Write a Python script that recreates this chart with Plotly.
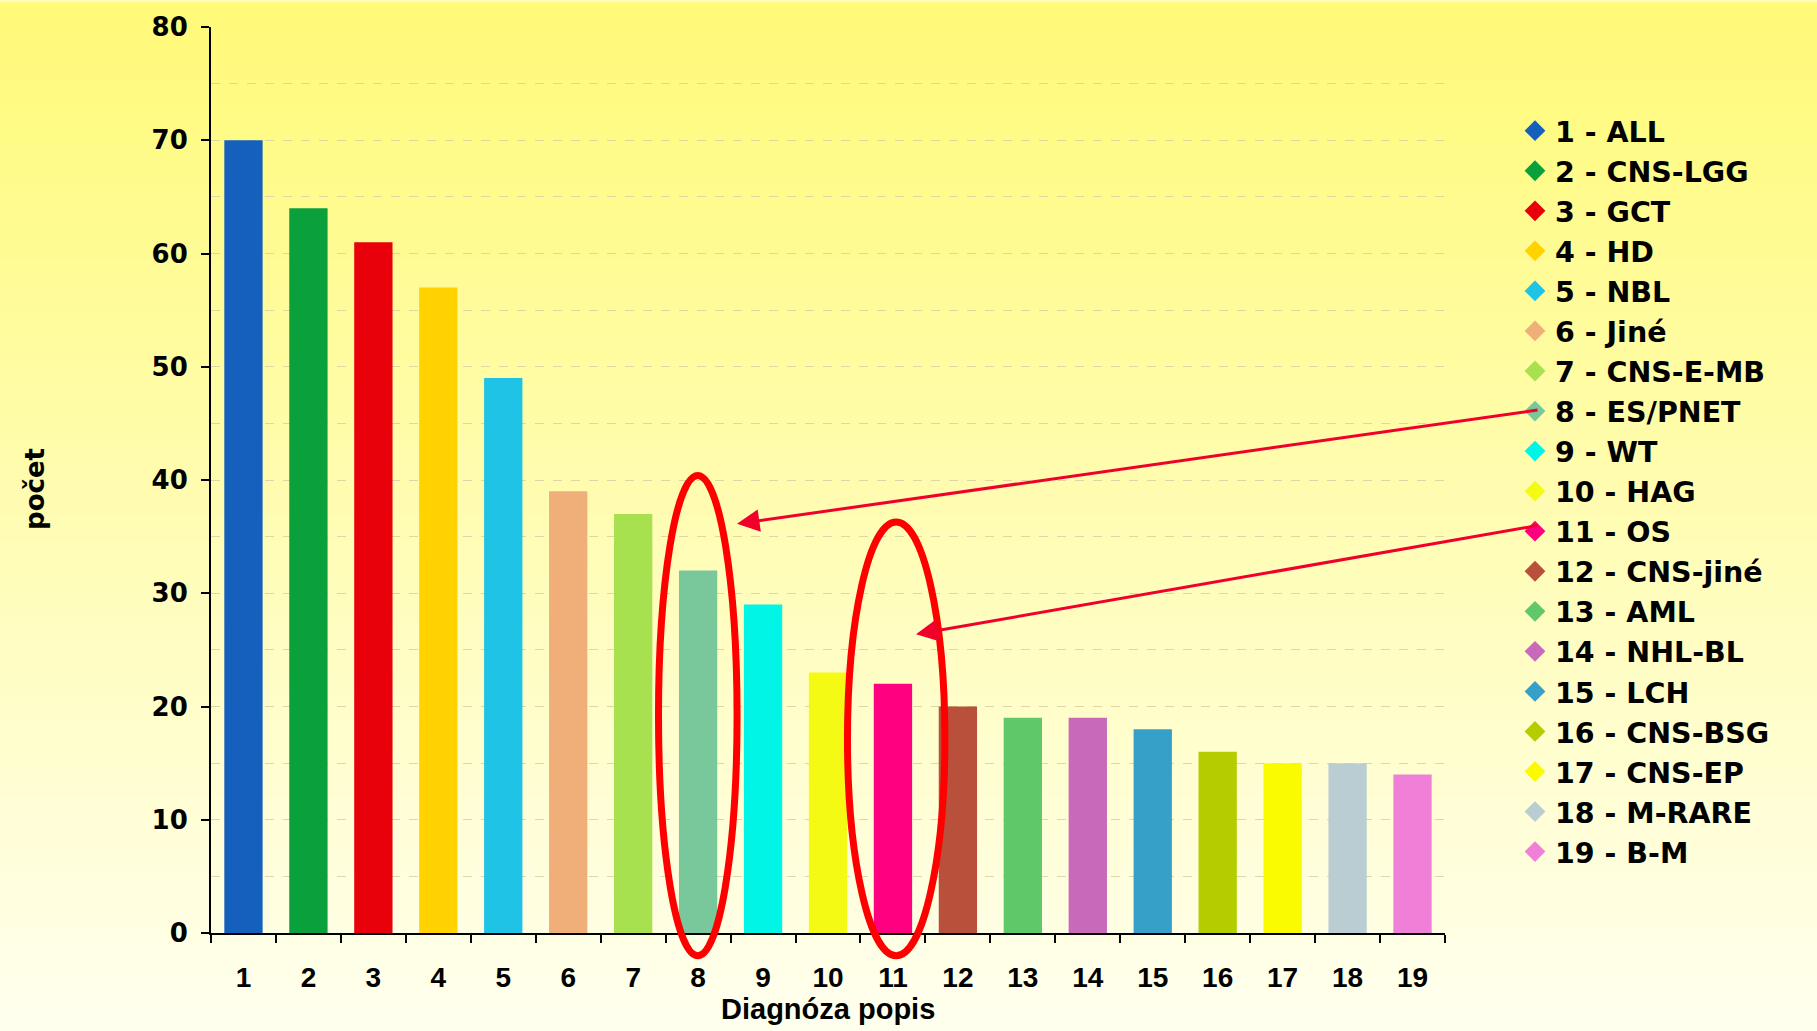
import plotly.graph_objects as go

categories = [str(i) for i in range(1, 20)]
names = ["ALL", "CNS-LGG", "GCT", "HD", "NBL", "Jiné", "CNS-E-MB", "ES/PNET", "WT", "HAG",
         "OS", "CNS-jiné", "AML", "NHL-BL", "LCH", "CNS-BSG", "CNS-EP", "M-RARE", "B-M"]
values = [70, 64, 61, 57, 49, 39, 37, 32, 29, 23, 22, 20, 19, 19, 18, 16, 15, 15, 14]
colors = ["#1560BD", "#0AA03C", "#E8000B", "#FFD200", "#1EC3E6", "#F0AF78", "#A8E150",
          "#78C89B", "#00F5E6", "#F5FA14", "#FF0080", "#B9503C", "#5FC869", "#C869B9",
          "#37A0C8", "#B4CD00", "#FAFA00", "#B9CDD2", "#F080D7"]

W, H = 1817, 1031
L, R, T, B = 211, 372, 23, 98
pw, ph = W - L - R, H - T - B
YMAX = 80

fig = go.Figure()
fig.add_trace(go.Bar(x=categories, y=values, marker=dict(color=colors, line=dict(width=0)),
                     showlegend=False, hoverinfo="x+y"))
for c, n, col in zip(categories, names, colors):
    fig.add_trace(go.Scatter(x=[None], y=[None], mode="markers", name=f"{c} - {n}",
                             marker=dict(symbol="diamond", size=18, color=col)))

# background gradient bands
shapes = []
nb = 80
top = (255, 250, 120)
bot = (255, 255, 238)
for i in range(nb):
    t = i / (nb - 1)
    col = tuple(round(top[k] + (bot[k] - top[k]) * t) for k in range(3))
    y1 = 1 - i / nb
    y0 = 1 - (i + 1) / nb
    shapes.append(dict(type="rect", xref="paper", yref="paper",
                       x0=-L / pw - 0.01, x1=(W - L) / pw + 0.01,
                       y0=(y0 * H - B) / ph - 0.002, y1=(y1 * H - B) / ph + 0.002,
                       fillcolor="rgb(%d,%d,%d)" % col, line=dict(width=0), layer="below"))

# red ellipses (x in category units, y in paper so they may extend below the axis)
shapes.append(dict(type="circle", xref="x", yref="paper", x0=6.39, x1=7.6,
                   y0=-2.0 / YMAX, y1=40.4 / YMAX,
                   line=dict(color="#FF0000", width=7), layer="above"))
shapes.append(dict(type="circle", xref="x", yref="paper", x0=9.3, x1=10.8,
                   y0=-2.0 / YMAX, y1=36.3 / YMAX,
                   line=dict(color="#FF0000", width=7), layer="above"))

annotations = [
    dict(x=(737 - L) / pw, y=(933 - 522) / ph, xref="paper", yref="paper", ax=802, ay=-114,
         showarrow=True, arrowhead=2, arrowsize=1.5, arrowwidth=3, arrowcolor="#F0002A", text=""),
    dict(x=(916 - L) / pw, y=(933 - 633) / ph, xref="paper", yref="paper", ax=623, ay=-109,
         showarrow=True, arrowhead=2, arrowsize=1.5, arrowwidth=3, arrowcolor="#F0002A", text=""),
    dict(text="<b>počet</b>", x=(35 - L) / pw, y=(933 - 487) / ph, xref="paper", yref="paper",
         xanchor="center", yanchor="middle",
         showarrow=False, textangle=-90, font=dict(family="DejaVu Sans", size=26, color="black")),
    dict(text="<b>Diagnóza popis</b>", x=(828 - L) / pw, y=(933 - 1009) / ph, xref="paper", yref="paper",
         xanchor="center", yanchor="middle",
         showarrow=False, font=dict(family="Liberation Sans Narrow, Liberation Sans", size=29, color="black")),
]

fig.update_layout(
    width=W, height=H,
    margin=dict(l=L, r=R, t=T, b=B, pad=0),
    paper_bgcolor="rgb(255,253,190)",
    plot_bgcolor="rgba(0,0,0,0)",
    bargap=0.41,
    shapes=shapes,
    annotations=annotations,
    showlegend=True,
    legend=dict(x=(1515 - L) / pw, y=(933 - 102) / ph, xanchor="left", yanchor="top",
                bgcolor="rgba(0,0,0,0)", borderwidth=0,
                font=dict(family="DejaVu Sans", size=28.5, color="black", weight="bold")),
    xaxis=dict(type="category", showline=True, linecolor="black", linewidth=2,
               ticks="outside", tickson="boundaries", ticklen=8, tickwidth=2, tickcolor="black",
               showgrid=False, ticklabelstandoff=18,
               tickfont=dict(family="Liberation Sans Narrow, Liberation Sans", size=28, color="black", weight="bold")),
    yaxis=dict(range=[0, YMAX], dtick=10, showline=True, linecolor="black", linewidth=2,
               ticks="outside", ticklen=8, tickwidth=2, tickcolor="black",
               showgrid=True, gridcolor="rgb(222,214,165)", griddash="dash", gridwidth=1,
               zeroline=False, ticklabelstandoff=8,
               minor=dict(dtick=5, showgrid=True, gridcolor="rgb(222,214,165)", griddash="dash", ticks=""),
               tickfont=dict(family="DejaVu Sans", size=26, color="black", weight="bold")),
)

fig.write_html("out.html", config={"displayModeBar": False},
               post_script="document.body.style.margin='0';")
